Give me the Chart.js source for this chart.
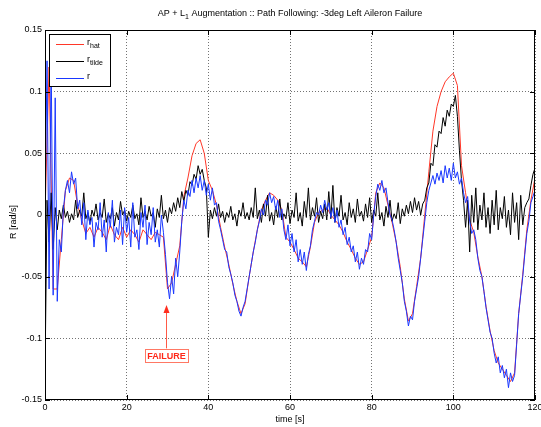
<!DOCTYPE html>
<html>
<head>
<meta charset="utf-8">
<script src="https://cdn.jsdelivr.net/npm/chart.js@4"></script>
<style>
  html, body { margin: 0; padding: 0; background: #fff; }
  canvas { display: block; }
</style>
</head>
<body>
<canvas id="myChart" width="541" height="427"></canvas>
<script>
// ═══════════════════════════════════════
//  DATA
// ═══════════════════════════════════════

const titleText = ['AP + L', '1', ' Augmentation :: Path Following: -3deg Left Aileron Failure'];
const xLabel = 'time [s]';
const yLabel = 'R [rad/s]';

const xTicks = [0, 20, 40, 60, 80, 100, 120];
const yTicks = [-0.15, -0.1, -0.05, 0, 0.05, 0.1, 0.15];
const yTickLabels = ['-0.15', '-0.1', '-0.05', '0', '0.05', '0.1', '0.15'];

// sample times: r and r_tilde every 0.5 s, r_hat every 1 s
const rTime    = Array.from({ length: 241 }, (_, i) => i * 0.5);
const rHatTime = Array.from({ length: 121 }, (_, i) => i);

// r (blue)
const rValues = [
  0.000, 0.125, -0.060, 0.130, -0.065, 0.095, -0.070, -0.020, -0.030, 0.005, 0.020, 0.028, 0.018, 0.035, 0.025, 0.030, 0.005, 0.012, -0.008, 0.010,
  -0.020, 0.004, -0.008, -0.002, -0.026, -0.006, -0.012, 0.010, -0.018, -0.004, -0.030, 0.002, -0.010, 0.012, -0.022, -0.010, -0.016, 0.004, -0.024, 0.006,
  -0.014, -0.002, -0.026, 0.010, -0.018, -0.012, -0.028, 0.002, -0.010, 0.008, -0.024, -0.006, -0.016, 0.006, -0.022, -0.012, -0.026, 0.000, -0.014, -0.032,
  -0.055, -0.068, -0.050, -0.064, -0.035, -0.050, -0.030, -0.005, 0.012, 0.005, 0.020, 0.015, 0.028, 0.018, 0.030, 0.022, 0.032, 0.020, 0.028, 0.016,
  0.025, 0.012, 0.022, 0.008, 0.010, -0.005, -0.012, -0.020, -0.028, -0.030, -0.042, -0.048, -0.055, -0.065, -0.070, -0.078, -0.082, -0.075, -0.070, -0.060,
  -0.050, -0.040, -0.030, -0.022, -0.012, -0.005, 0.005, 0.000, 0.012, 0.008, 0.018, 0.010, 0.015, 0.004, 0.012, -0.002, 0.005, -0.012, -0.020, -0.008,
  -0.025, -0.015, -0.030, -0.020, -0.038, -0.028, -0.040, -0.030, -0.045, -0.032, -0.025, -0.012, -0.005, 0.002, 0.000, 0.008, 0.002, 0.012, 0.004, 0.010,
  -0.002, 0.006, -0.006, 0.004, -0.010, -0.004, -0.016, -0.010, -0.024, -0.018, -0.030, -0.025, -0.038, -0.030, -0.044, -0.035, -0.040, -0.028, -0.030, -0.015,
  -0.020, 0.000, 0.015, 0.025, 0.020, 0.028, 0.018, 0.022, 0.010, 0.000, -0.004, -0.012, -0.022, -0.035, -0.045, -0.055, -0.070, -0.078, -0.090, -0.082,
  -0.085, -0.070, -0.060, -0.050, -0.035, -0.020, -0.005, 0.010, 0.020, 0.026, 0.032, 0.025, 0.034, 0.028, 0.036, 0.026, 0.040, 0.030, 0.038, 0.028,
  0.042, 0.030, 0.035, 0.025, 0.030, 0.018, 0.010, 0.015, -0.005, -0.015, -0.012, -0.020, -0.035, -0.045, -0.050, -0.062, -0.075, -0.085, -0.095, -0.100,
  -0.112, -0.120, -0.115, -0.128, -0.122, -0.132, -0.125, -0.140, -0.128, -0.135, -0.130, -0.105, -0.080, -0.065, -0.050, -0.032, -0.015, -0.005, 0.010, 0.015,
  0.020
];

// r_tilde (black)
const rTildeValues = [
  -0.130, 0.012, -0.022, 0.018, -0.028, 0.006, -0.012, 0.004, -0.003, 0.008, -0.002, 0.003, -0.006, 0.001, -0.004, 0.012, -0.002, 0.004, -0.001, 0.018,
  -0.003, 0.002, -0.007, 0.004, -0.001, 0.009, -0.004, 0.002, -0.002, 0.013, -0.006, 0.001, -0.003, 0.006, -0.009, 0.002, -0.004, 0.011, 0.000, 0.004,
  -0.005, 0.003, -0.002, 0.008, -0.003, 0.001, -0.008, 0.014, -0.002, 0.003, -0.004, 0.007, -0.001, 0.002, -0.010, 0.005, -0.002, 0.016, -0.003, 0.004,
  -0.006, 0.006, 0.001, 0.010, 0.003, 0.014, 0.006, 0.019, 0.011, 0.020, 0.016, 0.027, 0.024, 0.033, 0.029, 0.040, 0.033, 0.037, 0.028, 0.022,
  -0.018, 0.004, -0.003, 0.006, -0.001, 0.009, -0.002, 0.003, -0.006, 0.002, -0.002, 0.007, -0.004, 0.001, -0.009, 0.004, -0.001, 0.010, -0.003, 0.002,
  -0.004, 0.006, -0.002, 0.022, -0.003, 0.004, -0.006, 0.009, -0.001, 0.016, -0.005, 0.002, -0.008, 0.007, -0.002, 0.013, -0.004, 0.001, -0.003, 0.010,
  -0.007, 0.004, -0.002, 0.018, -0.005, 0.002, -0.009, 0.011, -0.002, 0.022, -0.004, 0.006, -0.001, 0.014, -0.006, 0.003, -0.003, 0.009, -0.004, 0.019,
  -0.003, 0.024, -0.006, 0.006, -0.001, 0.016, -0.004, 0.002, -0.008, 0.010, -0.002, 0.005, -0.006, 0.013, -0.001, 0.003, -0.005, 0.009, -0.002, 0.014,
  -0.006, 0.004, -0.001, 0.018, -0.004, 0.002, -0.009, 0.007, -0.002, 0.012, -0.005, 0.001, -0.003, 0.010, -0.007, 0.005, -0.001, 0.008, 0.001, 0.011,
  0.002, 0.014, 0.004, 0.011, 0.000, 0.009, 0.012, 0.022, 0.026, 0.042, 0.040, 0.057, 0.055, 0.068, 0.066, 0.079, 0.072, 0.085, 0.080, 0.090,
  0.088, 0.097, 0.080, 0.052, 0.028, 0.012, -0.010, 0.012, -0.030, 0.016, -0.006, 0.022, -0.012, 0.008, -0.004, 0.018, -0.010, 0.006, -0.015, 0.012,
  -0.008, 0.020, -0.012, 0.006, -0.003, 0.015, -0.010, 0.004, -0.016, 0.018, -0.006, 0.010, -0.020, 0.016, -0.008, 0.006, 0.010, 0.013, 0.024, 0.033,
  0.038
];

// r_hat (red)
const rHatValues = [
  0.000, 0.120, -0.060, -0.060, -0.020, 0.020, 0.030, 0.028, 0.008, -0.004,
  -0.015, -0.010, -0.018, -0.010, -0.014, -0.020, -0.008, -0.016, -0.020, -0.010,
  -0.018, -0.012, -0.016, -0.022, -0.012, -0.016, -0.020, -0.014, -0.016, -0.018,
  -0.060, -0.055, -0.040, -0.025, 0.015, 0.030, 0.048, 0.058, 0.061, 0.050,
  0.028, 0.020, 0.008, -0.010, -0.026, -0.040, -0.056, -0.070, -0.080, -0.072,
  -0.050, -0.030, -0.012, 0.004, 0.012, 0.018, 0.016, 0.012, 0.004, -0.018,
  -0.022, -0.028, -0.035, -0.038, -0.042, -0.026, -0.006, 0.002, 0.004, 0.006,
  0.000, -0.004, -0.008, -0.014, -0.022, -0.028, -0.035, -0.040, -0.038, -0.028,
  -0.018, 0.018, 0.026, 0.022, 0.008, -0.006, -0.022, -0.042, -0.068, -0.086,
  -0.080, -0.058, -0.035, 0.000, 0.035, 0.068, 0.088, 0.100, 0.108, 0.112,
  0.115, 0.105, 0.040, 0.018, -0.004, -0.014, -0.034, -0.050, -0.074, -0.094,
  -0.110, -0.120, -0.125, -0.130, -0.135, -0.128, -0.080, -0.048, -0.012, 0.012,
  0.030
];

// failure marker
const failureTime  = 30;
const failureLabel = 'FAILURE';

// ═══════════════════════════════════════
//  STYLE
// ═══════════════════════════════════════

const FONT   = '"Liberation Sans", Arial, Helvetica, sans-serif';
const RED    = 'rgb(255, 55, 40)';
const BLUE   = 'rgb(25, 55, 255)';
const BLACK  = 'rgb(0, 0, 0)';

const series = [
  { name: 'r', sub: 'hat',   color: RED,   t: rHatTime, v: rHatValues,   order: 2 },
  { name: 'r', sub: 'tilde', color: BLACK, t: rTime,    v: rTildeValues, order: 1 },
  { name: 'r', sub: '',      color: BLUE,  t: rTime,    v: rValues,      order: 0 }
];

function subText(ctx, x, y, main, sub, size) {
  ctx.font = `${size}px ${FONT}`;
  ctx.fillText(main, x, y);
  let w = ctx.measureText(main).width;
  if (sub) {
    ctx.font = `${size - 2}px ${FONT}`;
    ctx.fillText(sub, x + w, y + 3);
    w += ctx.measureText(sub).width;
  }
  return w;
}

// ═══════════════════════════════════════
//  DECORATIONS (box, inward ticks, titles, legend, failure note)
// ═══════════════════════════════════════

const matlabLook = {
  id: 'matlabLook',
  afterDatasetsDraw(chart) {
    const { ctx, chartArea: a, scales } = chart;
    ctx.save();
    ctx.strokeStyle = '#000';
    ctx.lineWidth = 1;
    ctx.strokeRect(Math.round(a.left) + 0.5, Math.round(a.top) + 0.5,
                   Math.round(a.right - a.left) - 1, Math.round(a.bottom - a.top) - 1);
    ctx.beginPath();
    xTicks.forEach(v => {
      const px = Math.round(scales.x.getPixelForValue(v)) + 0.5;
      ctx.moveTo(px, a.bottom); ctx.lineTo(px, a.bottom - 5);
      ctx.moveTo(px, a.top);    ctx.lineTo(px, a.top + 5);
    });
    yTicks.forEach(v => {
      const py = Math.round(scales.y.getPixelForValue(v)) + 0.5;
      ctx.moveTo(a.left, py);  ctx.lineTo(a.left + 5, py);
      ctx.moveTo(a.right, py); ctx.lineTo(a.right - 5, py);
    });
    ctx.stroke();
    ctx.restore();
  },
  afterDraw(chart) {
    const { ctx, chartArea: a, scales } = chart;
    ctx.save();
    ctx.fillStyle = '#000';
    ctx.textBaseline = 'middle';

    // title with subscript
    ctx.font = `9px ${FONT}`;
    const w0 = ctx.measureText(titleText[0]).width;
    const w2 = ctx.measureText(titleText[2]).width;
    ctx.font = `7px ${FONT}`;
    const w1 = ctx.measureText(titleText[1]).width;
    let tx = (a.left + a.right) / 2 - (w0 + w1 + w2) / 2;
    ctx.textAlign = 'left';
    ctx.font = `9px ${FONT}`;
    ctx.fillText(titleText[0], tx, 14);
    ctx.font = `7px ${FONT}`;
    ctx.fillText(titleText[1], tx + w0, 17);
    ctx.font = `9px ${FONT}`;
    ctx.fillText(titleText[2], tx + w0 + w1, 14);

    // axis titles
    ctx.textAlign = 'center';
    ctx.fillText(xLabel, (a.left + a.right) / 2, 420);
    ctx.save();
    ctx.translate(14, 222);
    ctx.rotate(-Math.PI / 2);
    ctx.fillText(yLabel, 0, 0);
    ctx.restore();

    // legend
    const lx = 49, ly = 34, lw = 61, lh = 52;
    ctx.fillStyle = '#fff';
    ctx.fillRect(lx, ly, lw, lh);
    ctx.strokeStyle = '#000';
    ctx.lineWidth = 1;
    ctx.strokeRect(lx + 0.5, ly + 0.5, lw, lh);
    ctx.textAlign = 'left';
    series.forEach((s, i) => {
      const yy = ly + 10 + i * 17;
      ctx.strokeStyle = s.color;
      ctx.beginPath();
      ctx.moveTo(lx + 7, yy + 0.5);
      ctx.lineTo(lx + 35, yy + 0.5);
      ctx.stroke();
      ctx.fillStyle = '#000';
      subText(ctx, lx + 38, yy - 1, s.name, s.sub, 9);
    });

    // failure arrow and label
    const fx = Math.round(scales.x.getPixelForValue(failureTime)) - 1.5;
    const tipY = scales.y.getPixelForValue(-0.073);
    const boxY = scales.y.getPixelForValue(-0.114);
    ctx.strokeStyle = 'rgb(255, 90, 70)';
    ctx.fillStyle = 'rgb(255, 45, 30)';
    ctx.beginPath();
    ctx.moveTo(fx, boxY - 7);
    ctx.lineTo(fx, tipY + 6);
    ctx.stroke();
    ctx.beginPath();
    ctx.moveTo(fx, tipY);
    ctx.lineTo(fx - 3, tipY + 8);
    ctx.lineTo(fx + 3, tipY + 8);
    ctx.closePath();
    ctx.fill();
    ctx.font = `bold 9px ${FONT}`;
    const fw = ctx.measureText(failureLabel).width + 4;
    ctx.fillStyle = '#fff';
    ctx.fillRect(fx - fw / 2, boxY - 7, fw, 14);
    ctx.strokeStyle = 'rgb(255, 120, 100)';
    ctx.strokeRect(Math.round(fx - fw / 2) + 0.5, Math.round(boxY - 7) + 0.5, Math.round(fw), 13);
    ctx.fillStyle = 'rgb(255, 40, 25)';
    ctx.textAlign = 'center';
    ctx.fillText(failureLabel, fx, boxY + 0.5);
    ctx.restore();
  }
};

// ═══════════════════════════════════════
//  CHART
// ═══════════════════════════════════════

const ctx = document.getElementById('myChart').getContext('2d');

new Chart(ctx, {
  type: 'line',
  data: {
    datasets: series.map(s => ({
      label: s.name + (s.sub ? '_' + s.sub : ''),
      data: s.t.map((t, i) => ({ x: t, y: s.v[i] })),
      borderColor: s.color,
      borderWidth: 1,
      pointRadius: 0,
      tension: 0,
      fill: false,
      order: s.order
    }))
  },
  options: {
    responsive: false,
    animation: false,
    layout: { padding: { left: 0, right: 6, top: 30, bottom: 0 } },
    plugins: {
      legend: { display: false },
      tooltip: { enabled: false },
      title: { display: false }
    },
    scales: {
      x: {
        type: 'linear',
        min: 0,
        max: 120,
        afterBuildTicks: s => { s.ticks = xTicks.map(v => ({ value: v })); },
        afterFit: s => { s.height = 27; s.paddingLeft = 0; s.paddingRight = 0; },
        ticks: {
          color: '#000',
          font: { family: FONT, size: 9 },
          padding: 2,
          maxRotation: 0,
          callback: v => String(v)
        },
        grid: { color: 'rgba(0,0,0,0.55)', drawTicks: false, lineWidth: 1 },
        border: { display: false, dash: [1, 2] }
      },
      y: {
        type: 'linear',
        min: -0.15,
        max: 0.15,
        afterBuildTicks: s => { s.ticks = yTicks.map(v => ({ value: v })); },
        afterFit: s => { s.width = 45; s.paddingTop = 0; s.paddingBottom = 0; },
        ticks: {
          color: '#000',
          font: { family: FONT, size: 9 },
          padding: 3,
          callback: (v, i) => yTickLabels[i]
        },
        grid: { color: 'rgba(0,0,0,0.55)', drawTicks: false, lineWidth: 1 },
        border: { display: false, dash: [1, 2] }
      }
    }
  },
  plugins: [matlabLook]
});
</script>
</body>
</html>
